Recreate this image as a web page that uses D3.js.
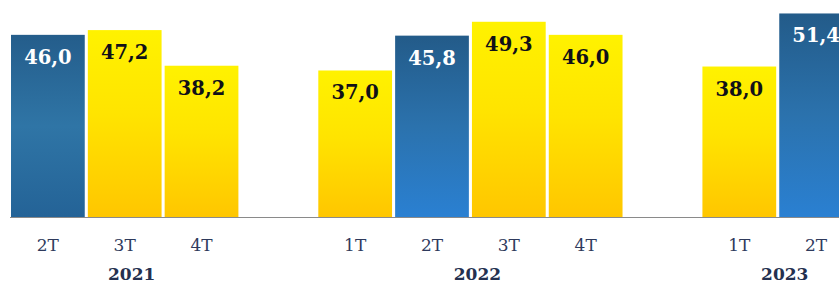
<!DOCTYPE html>
<html>
<head>
<meta charset="utf-8">
<script src="https://cdn.jsdelivr.net/npm/d3@7"></script>
<style>
  html, body { margin: 0; padding: 0; background: #ffffff; }
  #chart { width: 839px; height: 284px; overflow: hidden; }
</style>
</head>
<body>
<div id="chart"></div>
<script>
// Dados do gráfico
const quarters = ['2T', '3T', '4T', '1T', '2T', '3T', '4T', '1T', '2T'];
const years    = ['2021', '2021', '2021', '2022', '2022', '2022', '2022', '2023', '2023'];
const values   = [46.0, 47.2, 38.2, 37.0, 45.8, 49.3, 46.0, 38.0, 51.4];
const highlighted = [true, false, false, false, true, false, false, false, true];
const yearLabels = ['2021', '2022', '2023'];

const W = 839, H = 284;
const baseY = 217;

const data = values.map((v, i) => ({
  key: years[i] + '-' + quarters[i],
  quarter: quarters[i],
  year: years[i],
  value: v,
  hl: highlighted[i]
}));

// Slots: um espaço vazio entre cada ano
const slots = [];
data.forEach((d, i) => {
  if (i > 0 && d.year !== data[i - 1].year) slots.push('gap-' + d.year);
  slots.push(d.key);
});

const x = d3.scaleBand()
  .domain(slots)
  .range([11, 853])
  .paddingInner(0.04)
  .paddingOuter(0);

const y = d3.scaleLinear()
  .domain([0, 54.8])
  .range([baseY, 0]);

const svg = d3.select('#chart')
  .append('svg')
  .attr('width', W)
  .attr('height', H);

// Gradientes
const defs = svg.append('defs');
function grad(id, stops) {
  const g = defs.append('linearGradient')
    .attr('id', id)
    .attr('x1', 0).attr('y1', 0).attr('x2', 0).attr('y2', 1);
  stops.forEach(([o, c]) => g.append('stop').attr('offset', o).attr('stop-color', c));
}
grad('gYellow', [[0, '#fff200'], [0.45, '#ffe400'], [1, '#ffc600']]);
grad('gBlueA', [[0, '#245d8b'], [0.5, '#2f75a6'], [1, '#246397']]);
grad('gBlueB', [[0, '#235b89'], [0.5, '#2b72ad'], [1, '#2a80d2']]);

// Barras
svg.selectAll('.bar')
  .data(data)
  .enter()
  .append('rect')
  .attr('class', 'bar')
  .attr('x', d => x(d.key))
  .attr('y', d => y(d.value))
  .attr('width', x.bandwidth())
  .attr('height', d => y(0) - y(d.value))
  .attr('fill', d => d.hl ? (d.year === '2021' ? 'url(#gBlueA)' : 'url(#gBlueB)') : 'url(#gYellow)');

// Linha de base
svg.append('line')
  .attr('x1', 10).attr('x2', W)
  .attr('y1', baseY + 0.5).attr('y2', baseY + 0.5)
  .attr('stroke', '#8a8a8a')
  .attr('stroke-width', 1.2);

// Rótulos de valor
svg.selectAll('.val')
  .data(data)
  .enter()
  .append('text')
  .attr('class', 'val')
  .attr('x', d => x(d.key) + x.bandwidth() / 2)
  .attr('y', d => y(d.value) + 29)
  .attr('text-anchor', 'middle')
  .style('font-family', '"DejaVu Serif", serif')
  .style('font-weight', 'bold')
  .style('font-size', '19.5px')
  .attr('fill', d => d.hl ? '#ffffff' : '#101018')
  .text(d => d3.format('.1f')(d.value).replace('.', ','));

// Rótulos de trimestre
svg.selectAll('.q')
  .data(data)
  .enter()
  .append('text')
  .attr('class', 'q')
  .attr('x', d => x(d.key) + x.bandwidth() / 2)
  .attr('y', 251)
  .attr('text-anchor', 'middle')
  .style('font-family', '"DejaVu Serif", serif')
  .style('font-size', '17px')
  .attr('fill', '#2e3a5c')
  .text(d => d.quarter);

// Rótulos de ano (perto do centro do grupo)
svg.selectAll('.yr')
  .data(yearLabels)
  .enter()
  .append('text')
  .attr('class', 'yr')
  .attr('x', yr => {
    const ks = data.filter(d => d.year === yr).map(d => d.key);
    const x0 = x(ks[0]);
    const x1 = x(ks[ks.length - 1]) + x.bandwidth();
    return (x0 + x1) / 2 + 7;
  })
  .attr('y', 280)
  .attr('text-anchor', 'middle')
  .style('font-family', '"DejaVu Serif", serif')
  .style('font-weight', 'bold')
  .style('font-size', '17px')
  .attr('fill', '#24304f')
  .text(yr => yr);
</script>
</body>
</html>
